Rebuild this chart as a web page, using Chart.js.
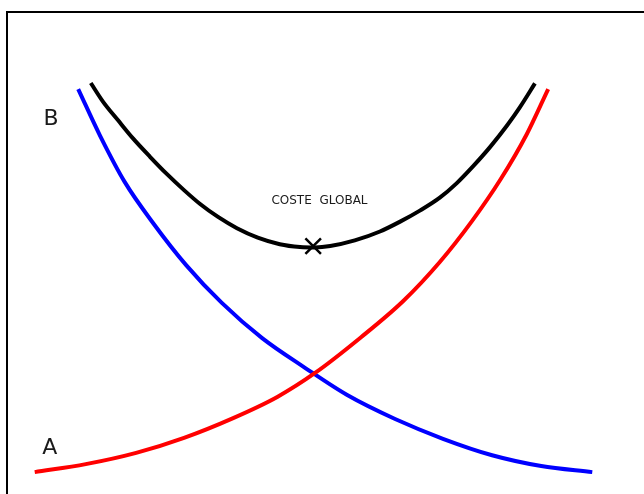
<!DOCTYPE html>
<html>
<head>
<meta charset="utf-8">
<script src="https://cdn.jsdelivr.net/npm/chart.js@4"></script>
<style>
  html, body { margin: 0; padding: 0; background: #fff; overflow: hidden; }
  #wrap { position: relative; width: 644px; height: 494px; }
  #frame {
    position: absolute; left: 6px; top: 11px; width: 700px; height: 600px;
    border-left: 2px solid #000; border-top: 2px solid #000;
  }
  canvas { position: absolute; left: 0; top: 0; }
</style>
</head>
<body>
<div id="wrap">
  <div id="frame"></div>
  <canvas id="costChart" width="644" height="494"></canvas>
</div>
<script>
// Curve A (red): rising cost
const costeAX = [4.4, 12.5, 20.5, 28.1, 35.9, 42.9, 48.9, 56.2, 62.9, 68.7, 73.8, 78.3, 82.5, 85.9];
const costeAY = [2.1, 3.8, 6.2, 9.4, 13.6, 18.1, 23.2, 30.8, 38.5, 46.8, 55.5, 64.3, 74.0, 83.6];

// Curve B (blue): falling cost
const costeBX = [11.3, 14.8, 18.7, 23.3, 28.4, 34.1, 40.5, 47.3, 54.0, 61.6, 69.2, 77.0, 84.8, 92.9];
const costeBY = [83.6, 73.6, 63.8, 54.9, 46.2, 38.1, 30.6, 24.3, 18.5, 13.4, 9.2, 5.7, 3.4, 2.1];

// Global cost (black)
const globalX = [13.3, 15.2, 17.6, 20.0, 22.7, 25.4, 28.1, 30.6, 33.5, 36.5, 39.8, 43.3, 46.5, 48.9,
                 51.3, 55.2, 59.2, 62.4, 65.6, 68.7, 71.4, 74.0, 76.7, 79.4, 81.4, 83.8];
const globalY = [84.9, 81.0, 77.0, 73.1, 69.2, 65.5, 62.1, 59.2, 56.4, 54.0, 52.0, 50.6, 50.0, 49.9,
                 50.2, 51.4, 53.3, 55.4, 57.8, 60.5, 63.6, 67.2, 71.3, 75.9, 79.7, 84.8];

// Minimum of global cost
const minimoX = [48.6];
const minimoY = [50.2];

// Text labels
const labelTexts = ['B', 'A', 'COSTE  GLOBAL'];
const labelX = [7.0, 6.8, 49.6];
const labelY = [77.2, 7.2, 59.8];
const labelSizes = [22, 22, 12];

function toPoints(xs, ys) {
    return xs.map((x, i) => ({ x: x, y: ys[i] }));
}

// Draw text labels at data positions
const labelPlugin = {
    id: 'labelPlugin',
    afterDatasetsDraw(chart) {
        const ctx = chart.ctx;
        const xs = chart.scales.x;
        const ys = chart.scales.y;
        ctx.save();
        ctx.fillStyle = '#1a1a1a';
        ctx.textAlign = 'center';
        ctx.textBaseline = 'middle';
        labelTexts.forEach((t, i) => {
            ctx.font = labelSizes[i] + 'px "DejaVu Sans"';
            ctx.fillText(t, xs.getPixelForValue(labelX[i]), ys.getPixelForValue(labelY[i]));
        });
        ctx.restore();
    }
};

const ctx = document.getElementById('costChart').getContext('2d');

new Chart(ctx, {
    type: 'line',
    data: {
        datasets: [
            {
                label: 'A',
                data: toPoints(costeAX, costeAY),
                borderColor: '#ff0000',
                borderWidth: 4,
                pointRadius: 0,
                cubicInterpolationMode: 'monotone',
                fill: false
            },
            {
                label: 'B',
                data: toPoints(costeBX, costeBY),
                borderColor: '#0000ff',
                borderWidth: 4,
                pointRadius: 0,
                cubicInterpolationMode: 'monotone',
                fill: false
            },
            {
                label: 'Coste global',
                data: toPoints(globalX, globalY),
                borderColor: '#000000',
                borderWidth: 4,
                pointRadius: 0,
                cubicInterpolationMode: 'monotone',
                fill: false
            },
            {
                label: 'Mínimo',
                data: toPoints(minimoX, minimoY),
                showLine: false,
                pointStyle: 'crossRot',
                pointRadius: 11,
                borderColor: '#000000',
                borderWidth: 2.5
            }
        ]
    },
    options: {
        responsive: false,
        animation: false,
        layout: { autoPadding: false, padding: { left: 7, right: 7, top: 12, bottom: 12 } },
        plugins: {
            legend: { display: false },
            tooltip: { enabled: false }
        },
        scales: {
            x: { type: 'linear', min: 0, max: 100, display: false },
            y: { type: 'linear', min: 0, max: 100, display: false }
        }
    },
    plugins: [labelPlugin]
});
</script>
</body>
</html>
